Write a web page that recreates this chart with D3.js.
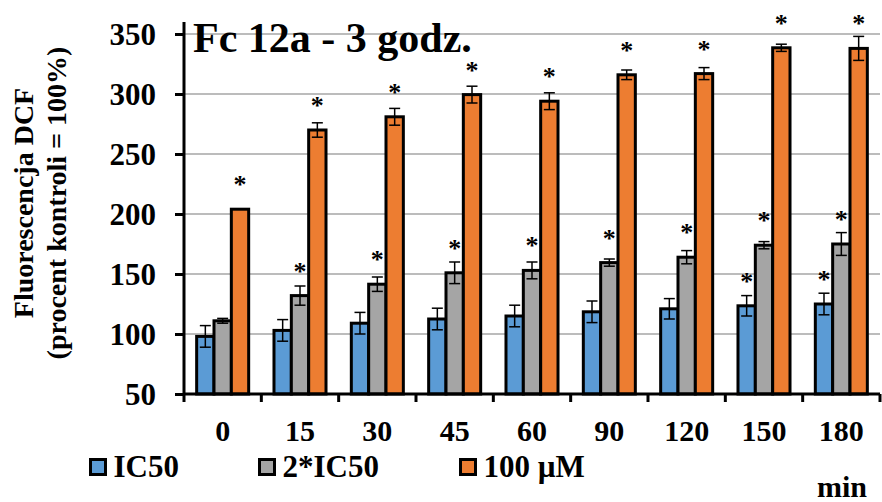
<!DOCTYPE html>
<html><head><meta charset="utf-8">
<script src="https://cdn.jsdelivr.net/npm/d3@7/dist/d3.min.js"></script>
<style>
html,body{margin:0;padding:0;background:#fff;}
svg{display:block;}
text{font-family:"Liberation Serif","Times New Roman",serif;font-weight:bold;fill:#000;}
</style></head>
<body>
<svg id="chart" width="882" height="502"></svg>
<script>
const categories = ["0","15","30","45","60","90","120","150","180"];
const seriesNames = ["IC50","2*IC50","100 µM"];
const ic50      = [98, 103, 109, 112.5, 115, 118.5, 121, 123.5, 125];
const ic50Err   = [9, 9, 9, 9, 9, 9, 8.5, 8.5, 9];
const ic50x2    = [111, 132, 141.5, 151, 153, 159.5, 164, 174, 175];
const ic50x2Err = [2, 8, 6, 9, 7, 3, 5.5, 3, 9.5];
const um100     = [204, 270, 281, 299.5, 294, 316, 317, 338.5, 338];
const um100Err  = [0, 6, 7, 7, 7, 4, 5, 3, 10];
const sigIc50   = [0,0,0,0,0,0,0,1,1];
const sigIc50x2 = [0,1,1,1,1,1,1,1,1];
const sigUm100  = [1,1,1,1,1,1,1,1,1];
const yTicks = [50,100,150,200,250,300,350];
const colors = ["#5b9bd5","#a5a5a5","#ed7d31"];
const titleText = "Fc 12a - 3 godz.";
const yTitle1 = "Fluorescencja DCF";
const yTitle2 = "(procent kontroli = 100%)";
const xUnit = "min";

const values = [ic50, ic50x2, um100];
const errs = [ic50Err, ic50x2Err, um100Err];
const sigs = [sigIc50, sigIc50x2, sigUm100];

const data = [];
categories.forEach((c,i)=>{
  seriesNames.forEach((s,j)=>{
    data.push({cat:c, s:j, v:values[j][i], e:errs[j][i], sig:sigs[j][i]});
  });
});

const svg = d3.select("#chart");
const pLeft = 184, pRight = 880, pTop = 22, pBottom = 394;

const x0 = d3.scaleBand().domain(categories).range([pLeft, pRight]).paddingInner(0).paddingOuter(0);
const x1 = d3.scaleBand().domain(d3.range(3)).range([0, x0.bandwidth()]).paddingInner(0).paddingOuter(0.73);
const y = d3.scaleLinear().domain([50, 360]).range([pBottom, pTop]);

// gridlines
svg.append("g").selectAll("line").data(yTicks.filter(t=>t>50)).join("line")
  .attr("x1", pLeft).attr("x2", pRight)
  .attr("y1", d=>y(d)).attr("y2", d=>y(d))
  .attr("stroke", "#a6a6a6").attr("stroke-width", 1.6);

// title
svg.append("text").attr("x", 193).attr("y", 52).attr("font-size", 42).text(titleText);

// bars
svg.append("g").selectAll("rect").data(data).join("rect")
  .attr("x", d=>x0(d.cat)+x1(d.s))
  .attr("width", x1.bandwidth())
  .attr("y", d=>y(d.v))
  .attr("height", d=>y(50)-y(d.v))
  .attr("fill", d=>colors[d.s])
  .attr("stroke", "#000").attr("stroke-width", 3);

// error bars
const eg = svg.append("g").attr("stroke","#000").attr("stroke-width",1.5);
data.filter(d=>d.e>0).forEach(d=>{
  const cx = x0(d.cat)+x1(d.s)+x1.bandwidth()/2;
  eg.append("line").attr("x1",cx).attr("x2",cx).attr("y1",y(d.v-d.e)).attr("y2",y(d.v+d.e));
  eg.append("line").attr("x1",cx-5.5).attr("x2",cx+5.5).attr("y1",y(d.v-d.e)).attr("y2",y(d.v-d.e));
  eg.append("line").attr("x1",cx-5.5).attr("x2",cx+5.5).attr("y1",y(d.v+d.e)).attr("y2",y(d.v+d.e));
});

// stars
svg.append("g").selectAll("text").data(data.filter(d=>d.sig)).join("text")
  .attr("x", d=>x0(d.cat)+x1(d.s)+x1.bandwidth()/2)
  .attr("y", d=>y(d.v)-16)
  .attr("text-anchor","middle")
  .attr("font-size", 26).attr("font-weight","normal")
  .text("*");

// y axis
const yAxis = d3.axisLeft(y).tickValues(yTicks).tickSize(9).tickFormat(d3.format("d"));
const ya = svg.append("g").attr("transform", `translate(${pLeft},0)`).call(yAxis);
ya.select(".domain").remove();
ya.selectAll(".tick line").attr("stroke","#000").attr("stroke-width",3);
ya.selectAll(".tick text").attr("font-size",31).attr("font-family",'"Liberation Serif","Times New Roman",serif')
  .attr("font-weight","bold").attr("x",-28).attr("dy","0.33em").attr("fill","#000");
svg.append("line").attr("x1",pLeft).attr("x2",pLeft).attr("y1",pTop).attr("y2",pBottom+8)
  .attr("stroke","#000").attr("stroke-width",3);

// x axis
svg.append("line").attr("x1",pLeft).attr("x2",pRight).attr("y1",pBottom).attr("y2",pBottom)
  .attr("stroke","#000").attr("stroke-width",3);
const bounds = categories.map(c=>x0(c)+x0.bandwidth());
svg.append("g").selectAll("line").data(bounds).join("line")
  .attr("x1",d=>d).attr("x2",d=>d).attr("y1",pBottom).attr("y2",pBottom+8)
  .attr("stroke","#000").attr("stroke-width",3);
svg.append("g").selectAll("text").data(categories).join("text")
  .attr("x", d=>x0(d)+x0.bandwidth()/2).attr("y", 441)
  .attr("text-anchor","middle").attr("font-size",30).text(d=>d);

// y title
const yt = svg.append("g").attr("transform","translate(33,203) rotate(-90)");
yt.append("text").attr("text-anchor","middle").attr("font-size",28).text(yTitle1);
yt.append("text").attr("text-anchor","middle").attr("font-size",28).attr("y",33).text(yTitle2);

// legend
const legX = [90.5, 259.5, 460.5];
const lg = svg.append("g");
seriesNames.forEach((s,j)=>{
  lg.append("rect").attr("x",legX[j]).attr("y",459.5).attr("width",15).attr("height",15)
    .attr("fill",colors[j]).attr("stroke","#000").attr("stroke-width",3);
  lg.append("text").attr("x",legX[j]+23).attr("y",477).attr("font-size",31).text(s);
});

// unit
svg.append("text").attr("x",817).attr("y",497).attr("font-size",30).text(xUnit);
</script>
</body></html>
